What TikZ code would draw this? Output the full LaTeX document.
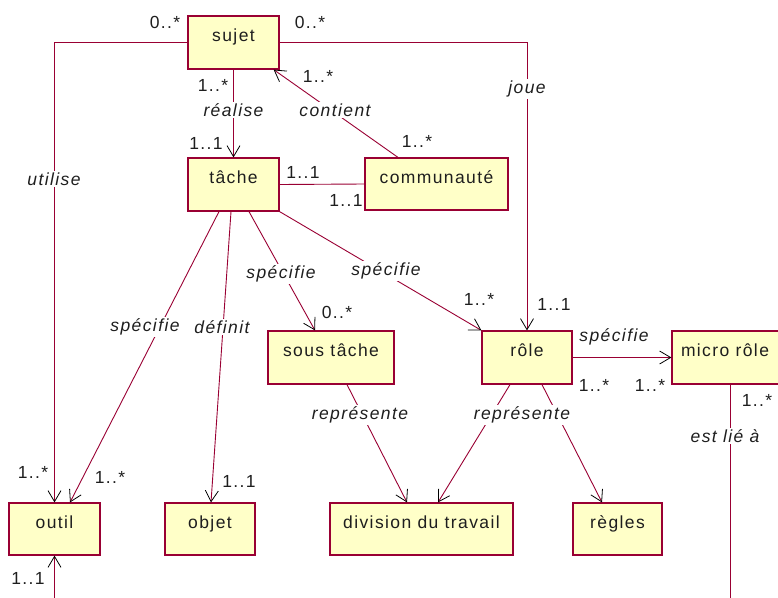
\documentclass[tikz,border=0pt]{standalone}
\usepackage{fontspec}
\setmainfont{Liberation Sans}[LetterSpace=8]
\usetikzlibrary{arrows.meta}
\definecolor{lnc}{RGB}{153,0,51}
\definecolor{boxfill}{RGB}{255,255,200}
\definecolor{txt}{RGB}{30,30,30}
\tikzset{
  cls/.style={draw=lnc, line width=1.2pt, fill=boxfill, rectangle, inner sep=0pt},
  cname/.style={anchor=base, text=txt, inner sep=0pt, font=\fontsize{17.5}{20}\selectfont},
  conn/.style={draw=lnc, line width=0.9pt},
  arr/.style={conn, -{Straight Barb[length=11pt,width=13pt,line width=0.8pt,black]}},
  rel/.style={fill=white, text=txt, inner sep=1.5pt, font=\fontsize{17.5}{20}\selectfont\itshape},
  mult/.style={text=txt, inner sep=0pt, font=\fontsize{17.5}{20}\selectfont}
}
\begin{document}
\begin{tikzpicture}[x=1pt,y=-1pt]
\useasboundingbox (0,0) rectangle (778,597);
\clip (0,0) rectangle (778,597);
% boxes
\node[cls, minimum width=91pt, minimum height=53pt] (sujet) at (233.5,42.5) {};
\node[cls, minimum width=91pt, minimum height=53pt] (tache) at (233.5,184.5) {};
\node[cls, minimum width=143pt, minimum height=52pt] (communaute) at (436.5,184) {};
\node[cls, minimum width=126pt, minimum height=53pt] (soustache) at (331,357.5) {};
\node[cls, minimum width=90pt, minimum height=53pt] (role) at (527,357.5) {};
\node[cls, minimum width=118pt, minimum height=53pt] (micro) at (731,357.5) {};
\node[cls, minimum width=91pt, minimum height=52pt] (outil) at (54.5,529) {};
\node[cls, minimum width=90pt, minimum height=52pt] (objet) at (210,529) {};
\node[cls, minimum width=183pt, minimum height=52pt] (division) at (421.5,529) {};
\node[cls, minimum width=89pt, minimum height=52pt] (regles) at (617.5,529) {};
% box names
\node[cname] (tsujet) at (233.5,41) {sujet};
\node[cname] (ttache) at (233.5,183) {tâche};
\node[cname] (tcomm) at (436.5,183) {communauté};
\node[cname] (tsous) at (331,356) {sous tâche};
\node[cname] (trole) at (527,356) {rôle};
\node[cname] (tmicro) at (725,356) {micro rôle};
\node[cname] (toutil) at (54.5,528) {outil};
\node[cname] (tobjet) at (210,528) {objet};
\node[cname] (tdiv) at (421.5,528) {division du travail};
\node[cname] (tregles) at (617.5,528) {règles};
% connectors
\coordinate (outilbot) at (54.5,600);
\coordinate (microbot) at (730,600);
\draw[arr] (sujet.west) -| (outil.north);
\draw[arr] (sujet.east) -| (role.north);
\draw[arr] (sujet.south) -- (tache.north);
\draw[arr] ([xshift=-38.5pt]communaute.north) -- ([xshift=-6pt]sujet.south east);
\draw[conn] (tache.east) -- (communaute.west);
\draw[arr] ([xshift=-14.5pt]tache.south) -- ([xshift=15.5pt]outil.north);
\draw[arr] ([xshift=-2.5pt]tache.south) -- ([xshift=1pt]objet.north);
\draw[arr] ([xshift=15.5pt]tache.south) -- ([xshift=-16pt]soustache.north);
\draw[arr] (tache.south east) -- (role.north west);
\draw[arr] (role.east) -- (micro.west);
\draw[conn] ([xshift=-1pt]micro.south) -- (microbot);
\draw[arr] (outilbot) -- (outil.south);
\draw[arr] ([xshift=16pt]soustache.south) -- ([xshift=-14.5pt]division.north);
\draw[arr] ([xshift=-17pt]role.south) -- ([xshift=16.5pt]division.north);
\draw[arr] ([xshift=15pt]role.south) -- ([xshift=-15.5pt]regles.north);
% relation labels
\node[rel] (lutil) at (54,179) {utilise};
\node[rel] (lreal) at (233.5,110) {réalise};
\node[rel] (lcont) at (335,110) {contient};
\node[rel] (ljoue) at (527,89) {joue};
\node[rel] (lspec1) at (145,327) {spécifie};
\node[rel] (ldef) at (222,327) {définit};
\node[rel] (lspec2) at (281,274) {spécifie};
\node[rel] (lspec3) at (386,271) {spécifie};
\node[rel, fill=none] (lspec4) at (614,337) {spécifie};
\node[rel] (lrep1) at (360,415) {représente};
\node[rel] (lrep2) at (522,415) {représente};
\node[rel] (llie) at (725,436) {est lié à};
% multiplicities
\node[mult] at (165,22) {0..*};
\node[mult] at (310,22) {0..*};
\node[mult] at (213,85) {1..*};
\node[mult] at (206,143) {1..1};
\node[mult] at (318,76) {1..*};
\node[mult] at (417,141) {1..*};
\node[mult] at (303,172) {1..1};
\node[mult] at (346,200) {1..1};
\node[mult] at (337,312) {0..*};
\node[mult] at (479,299) {1..*};
\node[mult] at (554,304) {1..1};
\node[mult] at (594,385) {1..*};
\node[mult] at (650,385) {1..*};
\node[mult] at (757,400) {1..*};
\node[mult] at (33,472) {1..*};
\node[mult] at (110,477) {1..*};
\node[mult] at (239,481) {1..1};
\node[mult] at (28,578) {1..1};
\end{tikzpicture}
\end{document}
